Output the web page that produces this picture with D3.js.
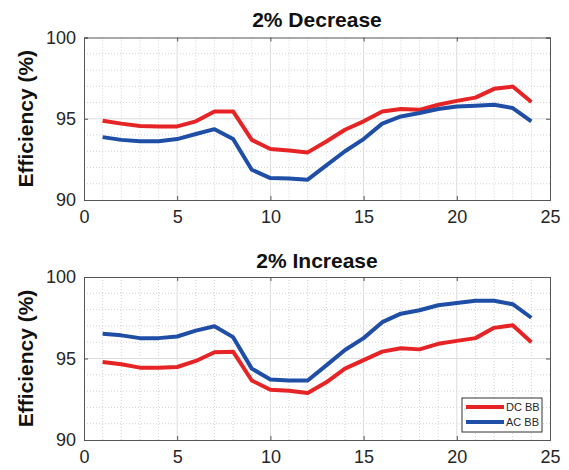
<!DOCTYPE html>
<html>
<head>
<meta charset="utf-8">
<script src="https://cdn.jsdelivr.net/npm/d3@7"></script>
<style>
  body { margin: 0; background: #fff; }
  svg { font-family: "Liberation Sans", Arial, sans-serif; }
</style>
</head>
<body>
<div id="chart"></div>
<script>
// hours 1..24
var hours = [1,2,3,4,5,6,7,8,9,10,11,12,13,14,15,16,17,18,19,20,21,22,23,24];

// 2% decrease
var decDC = [94.88,94.7,94.55,94.53,94.53,94.84,95.45,95.45,93.7,93.14,93.05,92.93,93.6,94.32,94.84,95.45,95.6,95.55,95.86,96.1,96.3,96.84,96.98,96.03];
var decAC = [93.87,93.7,93.62,93.62,93.75,94.06,94.36,93.75,91.86,91.35,91.33,91.25,92.13,93.0,93.75,94.7,95.14,95.35,95.6,95.76,95.8,95.86,95.66,94.84];

// 2% increase
var incDC = [94.79,94.65,94.44,94.44,94.48,94.85,95.38,95.42,93.65,93.08,93.02,92.88,93.54,94.38,94.9,95.42,95.63,95.56,95.9,96.08,96.25,96.88,97.04,96.0];
var incAC = [96.52,96.42,96.25,96.25,96.35,96.71,96.98,96.31,94.38,93.71,93.65,93.65,94.58,95.52,96.25,97.23,97.75,97.96,98.27,98.4,98.54,98.54,98.33,97.5];

var xTicks = [0,5,10,15,20,25];
var yTicks = [90,95,100];
var seriesNames = ["DC BB", "AC BB"];
var colors = ["#e62325", "#1f4ea6"];

var width = 569, height = 470;
var left = 84, right = 550;

var svg = d3.select("#chart").append("svg")
  .attr("width", width).attr("height", height);

var panels = [
  {title: "2% Decrease", top: 37.5, bottom: 200, data: [decDC, decAC], legend: false, titleY: 27},
  {title: "2% Increase", top: 277, bottom: 440, data: [incDC, incAC], legend: true, titleY: 268}
];

panels.forEach(function (p) {
  var x = d3.scaleLinear().domain([0, 25]).range([left, right]);
  var y = d3.scaleLinear().domain([90, 100]).range([p.bottom, p.top]);
  var g = svg.append("g");

  // minor grid (dotted)
  g.selectAll(".mx").data(d3.range(1, 25).filter(function (d) {return d % 5 != 0;})).enter()
    .append("line")
    .attr("x1", function (d) {return x(d);}).attr("x2", function (d) {return x(d);})
    .attr("y1", p.top).attr("y2", p.bottom)
    .attr("stroke", "#c8c8c8").attr("stroke-width", 0.8).attr("stroke-dasharray", "1,2");
  g.selectAll(".my").data(d3.range(91, 100).filter(function (d) {return d % 5 != 0;})).enter()
    .append("line")
    .attr("x1", left).attr("x2", right)
    .attr("y1", function (d) {return y(d);}).attr("y2", function (d) {return y(d);})
    .attr("stroke", "#c8c8c8").attr("stroke-width", 0.8).attr("stroke-dasharray", "1,2");

  // major grid
  g.selectAll(".gx").data(xTicks.slice(1, -1)).enter()
    .append("line")
    .attr("x1", function (d) {return x(d);}).attr("x2", function (d) {return x(d);})
    .attr("y1", p.top).attr("y2", p.bottom)
    .attr("stroke", "#dcdcdc").attr("stroke-width", 1);
  g.selectAll(".gy").data(yTicks.slice(1, -1)).enter()
    .append("line")
    .attr("x1", left).attr("x2", right)
    .attr("y1", function (d) {return y(d);}).attr("y2", function (d) {return y(d);})
    .attr("stroke", "#dcdcdc").attr("stroke-width", 1);

  // axes
  var xAxis = g.append("g")
    .attr("transform", "translate(0," + p.bottom + ")")
    .call(d3.axisBottom(x).tickValues(xTicks).tickSize(-4).tickPadding(10));
  var xTop = g.append("g")
    .attr("transform", "translate(0," + p.top + ")")
    .call(d3.axisTop(x).tickValues(xTicks).tickSize(-4).tickFormat(""));
  var yAxis = g.append("g")
    .attr("transform", "translate(" + left + ",0)")
    .call(d3.axisLeft(y).tickValues(yTicks).tickSize(-4).tickPadding(8));
  var yRight = g.append("g")
    .attr("transform", "translate(" + right + ",0)")
    .call(d3.axisRight(y).tickValues(yTicks).tickSize(-4).tickFormat(""));
  [xAxis, xTop, yAxis, yRight].forEach(function (a) {
    a.selectAll("path").attr("stroke", "#555").attr("stroke-width", 1);
    a.selectAll("line").attr("stroke", "#555");
    a.selectAll("text").attr("fill", "#262626").style("font-size", "18px")
      .style("font-family", "Liberation Sans, Arial, sans-serif");
  });

  // series
  var line = d3.line()
    .x(function (d, i) {return x(hours[i]);})
    .y(function (d) {return y(d);});
  p.data.forEach(function (s, k) {
    g.append("path").datum(s)
      .attr("d", line)
      .attr("fill", "none")
      .attr("stroke", colors[k])
      .attr("stroke-width", 4)
      .attr("stroke-linejoin", "round");
  });

  // title
  svg.append("text")
    .attr("x", (left + right) / 2).attr("y", p.titleY)
    .attr("text-anchor", "middle")
    .style("font-size", "21px").style("font-weight", "bold")
    .attr("fill", "#111")
    .text(p.title);

  // y label
  svg.append("text")
    .attr("transform", "translate(33," + ((p.top + p.bottom) / 2) + ") rotate(-90)")
    .attr("text-anchor", "middle")
    .style("font-size", "21px").style("font-weight", "bold")
    .attr("fill", "#111")
    .text("Efficiency (%)");

  if (p.legend) {
    var lg = svg.append("g");
    lg.append("rect")
      .attr("x", 462).attr("y", 398).attr("width", 80).attr("height", 34)
      .attr("fill", "#fff").attr("stroke", "#333").attr("stroke-width", 1);
    seriesNames.forEach(function (n, k) {
      var ly = 407 + k * 15;
      lg.append("line")
        .attr("x1", 466).attr("x2", 504).attr("y1", ly).attr("y2", ly)
        .attr("stroke", colors[k]).attr("stroke-width", 4);
      lg.append("text")
        .attr("x", 506).attr("y", ly + 4)
        .style("font-size", "11px").attr("fill", "#262626")
        .text(n);
    });
  }
});
</script>
</body>
</html>
